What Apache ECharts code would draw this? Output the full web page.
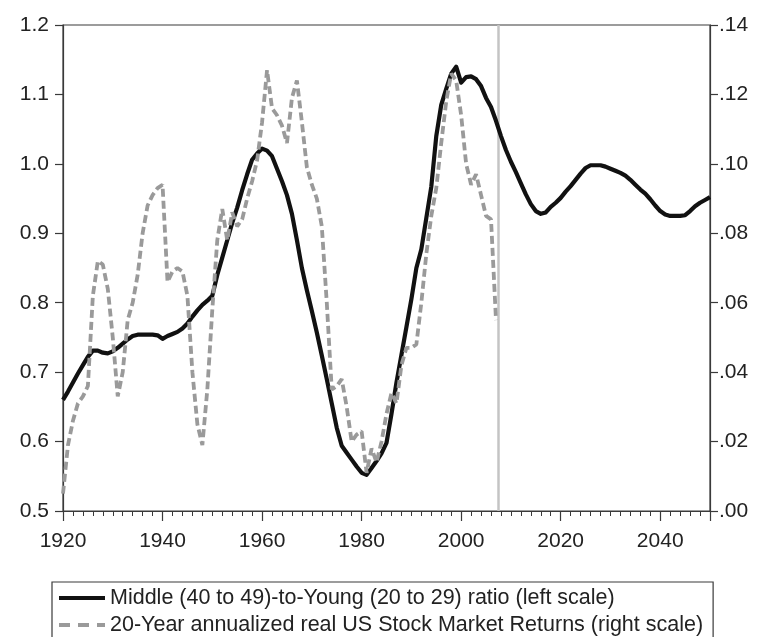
<!DOCTYPE html>
<html>
<head>
<meta charset="utf-8">
<script src="https://cdn.jsdelivr.net/npm/echarts@6/dist/echarts.min.js"></script>
<style>
    html, body { margin: 0; padding: 0; background: #fff; }
    #chart { width: 760px; height: 637px; }
</style>
</head>
<body>
<div id="chart"></div>
<script>
/* ===== data ===== */
const ratioStart = 1920;
// Middle (40-49) to Young (20-29) ratio, 1920..2050, one value per year
const ratioValues = [
    0.660, 0.672, 0.685, 0.698, 0.710, 0.722, 0.731, 0.731, 0.728, 0.727,  // 1920s
    0.730, 0.735, 0.741, 0.747, 0.752, 0.754, 0.754, 0.754, 0.754, 0.753,  // 1930s
    0.748, 0.752, 0.755, 0.758, 0.763, 0.770, 0.780, 0.789, 0.797, 0.803,  // 1940s
    0.810, 0.840, 0.865, 0.890, 0.915, 0.937, 0.962, 0.985, 1.006, 1.015,  // 1950s
    1.022, 1.019, 1.011, 0.993, 0.975, 0.955, 0.928, 0.890, 0.850, 0.818,  // 1960s
    0.788, 0.757, 0.724, 0.690, 0.655, 0.620, 0.594, 0.584, 0.574, 0.564,  // 1970s
    0.555, 0.552, 0.562, 0.572, 0.583, 0.598, 0.640, 0.685, 0.725, 0.765,  // 1980s
    0.805, 0.850, 0.877, 0.922, 0.967, 1.040, 1.085, 1.108, 1.130, 1.140,  // 1990s
    1.117, 1.125, 1.126, 1.122, 1.112, 1.095, 1.082, 1.062, 1.040, 1.020,  // 2000s
    1.003, 0.988, 0.972, 0.956, 0.942, 0.932, 0.928, 0.930, 0.938, 0.944,  // 2010s
    0.951, 0.960, 0.968, 0.977, 0.986, 0.994, 0.998, 0.998, 0.998, 0.996,  // 2020s
    0.993, 0.990, 0.987, 0.983, 0.977, 0.970, 0.963, 0.957, 0.949, 0.940,  // 2030s
    0.932, 0.927, 0.925, 0.925, 0.925, 0.926, 0.932, 0.939, 0.944, 0.948,  // 2040s
    0.952                                                                  // 2050
];

const returnsStart = 1920;
// 20-year annualized real US stock market returns, 1920..2007
const returnsValues = [
    0.005, 0.019, 0.026, 0.031, 0.033, 0.036, 0.062, 0.072, 0.071, 0.064,  // 1920s
    0.050, 0.033, 0.040, 0.055, 0.060, 0.068, 0.080, 0.088, 0.091, 0.093,  // 1930s
    0.094, 0.066, 0.069, 0.070, 0.069, 0.062, 0.040, 0.025, 0.019, 0.035,  // 1940s
    0.058, 0.078, 0.087, 0.078, 0.086, 0.082, 0.084, 0.090, 0.095, 0.101,  // 1950s
    0.112, 0.127, 0.116, 0.114, 0.111, 0.106, 0.119, 0.124, 0.112, 0.099,  // 1960s
    0.094, 0.090, 0.082, 0.060, 0.035, 0.036, 0.038, 0.030, 0.020, 0.022,  // 1970s
    0.023, 0.011, 0.018, 0.014, 0.020, 0.028, 0.034, 0.031, 0.042, 0.047,  // 1980s
    0.047, 0.048, 0.060, 0.074, 0.085, 0.093, 0.106, 0.118, 0.126, 0.124,  // 1990s
    0.114, 0.100, 0.094, 0.097, 0.091, 0.085, 0.084, 0.055                 // 2000s
];

const xTicks = [1920, 1940, 1960, 1980, 2000, 2020, 2040];
const leftTicks = [0.5, 0.6, 0.7, 0.8, 0.9, 1.0, 1.1, 1.2];
const rightTicks = [0.00, 0.02, 0.04, 0.06, 0.08, 0.10, 0.12, 0.14];
const markerYear = 2007.5;

const ratioName = "Middle (40 to 49)-to-Young (20 to 29) ratio (left scale)";
const returnsName = "20-Year annualized real US Stock Market Returns (right scale)";

/* ===== chart ===== */
const FONT = "'Liberation Sans', Arial, sans-serif";
const AXIS_COLOR = "#3a3a3a";

const chart = echarts.init(document.getElementById("chart"), null, { renderer: "canvas" });

const ratioData = ratioValues.map((v, i) => [ratioStart + i, v]);
const returnsData = returnsValues.map((v, i) => [returnsStart + i, v]);

chart.setOption({
    animation: false,
    backgroundColor: "#fff",
    grid: {
        left: 63, right: 50, top: 25, bottom: 126,
        show: true, borderColor: AXIS_COLOR, borderWidth: 1.2, backgroundColor: "transparent",
    },
    legend: {
        orient: "vertical",
        left: 52, top: 582, height: 120,
        itemWidth: 46, itemHeight: 12, itemGap: 5,
        padding: [5, 10, 16, 5],
        borderColor: AXIS_COLOR, borderWidth: 1.2,
        itemStyle: { opacity: 0 },
        textStyle: { fontFamily: FONT, fontSize: 21.5, color: "#222" },
        data: [
            { name: ratioName, lineStyle: { width: 4 } },
            { name: returnsName, lineStyle: { width: 4, type: [11, 8] } },
        ],
    },
    xAxis: {
        type: "value",
        min: xTicks[0], max: 2050, interval: 20,
        axisLine: { lineStyle: { color: AXIS_COLOR, width: 1.2 } },
        axisTick: { show: true, length: 10, lineStyle: { color: AXIS_COLOR, width: 1.2 } },
        minorTick: { show: true, splitNumber: 10, length: 5, lineStyle: { color: AXIS_COLOR, width: 1 } },
        splitLine: { show: false },
        axisLabel: {
            fontFamily: FONT, fontSize: 21, color: "#222", margin: 20,
            formatter: v => (xTicks.includes(v) ? String(v) : ""),
        },
    },
    yAxis: [
        {
            type: "value",
            min: leftTicks[0], max: leftTicks[leftTicks.length - 1], interval: 0.1,
            axisLine: { show: true, lineStyle: { color: AXIS_COLOR, width: 1.2 } },
            axisTick: { show: true, length: 8, lineStyle: { color: AXIS_COLOR, width: 1.2 } },
            splitLine: { show: false },
            axisLabel: {
                fontFamily: FONT, fontSize: 21, color: "#222", margin: 14,
                formatter: v => v.toFixed(1),
            },
        },
        {
            type: "value",
            min: rightTicks[0], max: rightTicks[rightTicks.length - 1], interval: 0.02,
            axisLine: { show: true, lineStyle: { color: AXIS_COLOR, width: 1.2 } },
            axisTick: { show: true, length: 8, lineStyle: { color: AXIS_COLOR, width: 1.2 } },
            splitLine: { show: false },
            axisLabel: {
                fontFamily: FONT, fontSize: 21, color: "#222", margin: 9,
                formatter: v => v.toFixed(2).replace(/^0/, ""),
            },
        },
    ],
    series: [
        {
            name: ratioName,
            type: "line",
            yAxisIndex: 0,
            data: ratioData,
            symbol: "none",
            lineStyle: { color: "#111", width: 4.2, join: "round" },
            itemStyle: { color: "#111" },
            z: 3,
            markLine: {
                silent: true,
                symbol: "none",
                label: { show: false },
                lineStyle: { color: "#c4c4c4", width: 2.5, type: "solid" },
                data: [{ xAxis: markerYear }],
                z: 1,
            },
        },
        {
            name: returnsName,
            type: "line",
            yAxisIndex: 1,
            data: returnsData,
            symbol: "none",
            lineStyle: { color: "#9a9a9a", width: 3.8, type: [8, 4] },
            itemStyle: { color: "#9a9a9a" },
            z: 4,
        },
    ],
});
</script>
</body>
</html>
